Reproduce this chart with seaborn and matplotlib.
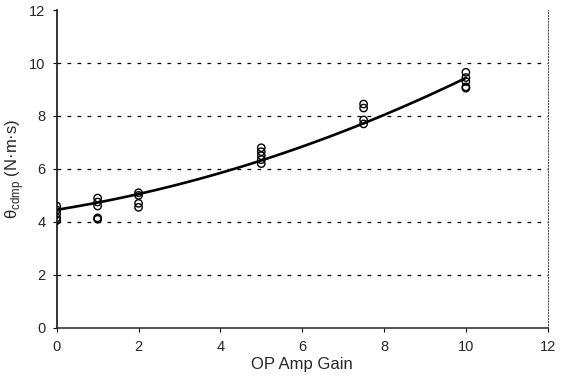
import numpy as np
import pandas as pd
import matplotlib
matplotlib.use('Agg')
import matplotlib.pyplot as plt
import seaborn as sns

# Dados
gain_0 = [4.6, 4.45, 4.3, 4.15, 4.05]
gain_1 = [4.9, 4.75, 4.6, 4.15, 4.1]
gain_2 = [5.1, 5.0, 4.7, 4.55]
gain_5 = [6.8, 6.65, 6.5, 6.35, 6.2]
gain_75 = [8.45, 8.3, 7.85, 7.7]
gain_10 = [9.65, 9.45, 9.3, 9.1, 9.05]
gains = [0, 1, 2, 5, 7.5, 10]

# Linha de tendência
trend_x = [0, 1, 2, 5, 7.5, 10]
trend_y = [4.5, 4.72, 5.0, 6.3, 7.8, 9.4]

valores = [gain_0, gain_1, gain_2, gain_5, gain_75, gain_10]
rows = []
for g, vs in zip(gains, valores):
    for v in vs:
        rows.append({'gain': g, 'theta': v})
df = pd.DataFrame(rows)
trend = pd.DataFrame({'gain': trend_x, 'theta': trend_y})

sns.set_style('ticks')
plt.rcParams['font.family'] = ['Liberation Sans', 'DejaVu Sans']
plt.rcParams['mathtext.fontset'] = 'custom'
plt.rcParams['mathtext.rm'] = 'Liberation Sans'

fig = plt.figure(figsize=(5.67, 3.87), dpi=100)
ax = fig.add_axes([0.1, 0.153, 0.866, 0.821])

sns.scatterplot(data=df, x='gain', y='theta', ax=ax, marker='o', s=28,
                facecolors='none', edgecolor='black', linewidth=1.0, zorder=3)
sns.regplot(data=trend, x='gain', y='theta', order=2, ci=None, scatter=False,
            ax=ax, line_kws={'color': 'black', 'lw': 1.9}, truncate=True)

ax.set_xlim(0, 12)
ax.set_ylim(0, 12)
ax.set_xticks(range(0, 13, 2))
ax.set_yticks(range(0, 13, 2))
for y in range(2, 11, 2):
    ax.axhline(y, color='black', ls=(0, (3, 5)), lw=0.9, zorder=0)

ax.spines['top'].set_visible(False)
ax.spines['right'].set_linestyle(':')
ax.spines['right'].set_color('#555555')
ax.spines['left'].set_linewidth(1.3)
ax.spines['bottom'].set_linewidth(1.1)
ax.tick_params(labelsize=10.5, length=3, color='black')
ax.tick_params(axis='y', pad=5)
ax.tick_params(axis='x', pad=6)
ax.set_xlabel('OP Amp Gain', fontsize=12, labelpad=2)
ax.set_ylabel(r'θ$_{\mathrm{cdmp}}$ (N·m·s)', fontsize=12, labelpad=2)

plt.savefig('out.png', dpi=100)
